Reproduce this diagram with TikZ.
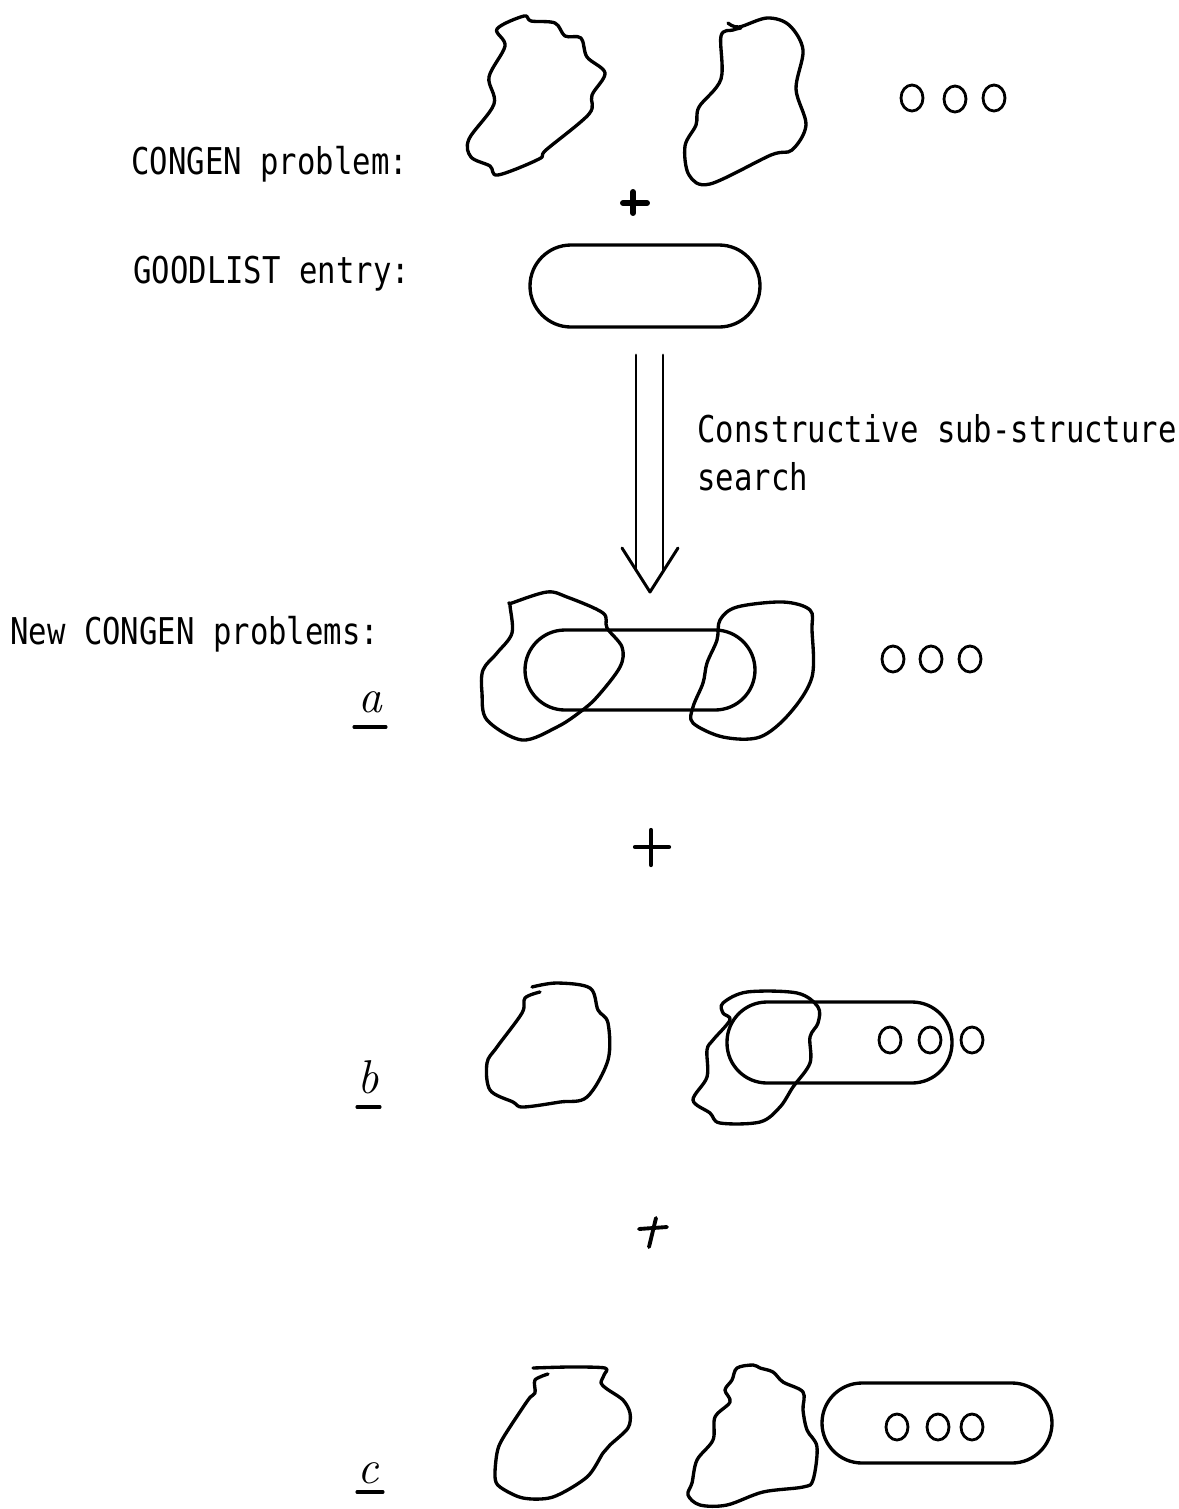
\documentclass[tikz,border=0pt]{standalone}
\usepackage{fontspec}
\newfontfamily\lblfont{DejaVu Sans Mono}[FakeStretch=0.83]
\begin{document}
\begin{tikzpicture}[x=0.02cm,y=-0.02cm,line join=round,line cap=round,
  outl/.style={line width=1.9pt},
  dots/.style={line width=1.6pt},
  lbl/.style={font=\lblfont\fontsize{21}{25}\selectfont,anchor=base west,inner sep=0pt},
  hand/.style={font=\fontsize{27}{30}\selectfont\itshape,anchor=base,inner sep=0pt},
  uline/.style={line width=1.8pt}]
\useasboundingbox (0,0) rectangle (1179,1509);

% labels
\node[lbl] (t1) at (131,174) {CONGEN problem:};
\node[lbl] (t2) at (133,283) {GOODLIST entry:};
\node[lbl] (t3) at (697,442) {Constructive sub-structure};
\node[lbl] (t4) at (697,490) {search};
\node[lbl] (t5) at (10,644) {New CONGEN problems:};

% hand letters
\node[hand] (la) at (370,712) {a};
\draw[uline] (354,727) -- (386,727);
\node[hand] (lb) at (368,1093) {b};
\draw[uline] (357,1107) -- (380,1107);
\node[hand] (lc) at (368,1483) {c};
\draw[uline] (357,1492) -- (383,1492);

% --- top row
\draw[outl] plot[smooth cycle,tension=0.55] coordinates {(497,29) (524,16) (531,21) (555,23) (565,36) (581,38) (587,57) (605,73) (592,95) (589,114) (546,150) (539,159) (498,175) (490,166) (471,157) (469,139) (494,104) (489,77) (505,46)};
\draw[outl] plot[smooth,tension=0.55] coordinates {(728,23) (739,27) (767,18) (789,25) (803,50) (796,89) (806,125) (792,150) (771,155) (710,184) (689,175) (685,146) (696,125) (699,107) (721,79) (721,36) (733,30) (741,28)};
\foreach \x/\y in {912/98,955/99,994/98} \draw[dots] (\x,\y) ellipse [x radius=11,y radius=13];

% plus 1
\draw[line width=3.4pt] (623,203) -- (647,203);
\draw[line width=3.4pt] (633,192) -- (633,213);

% GOODLIST pill
\draw[outl,rounded corners=0.82cm] (530,245) rectangle (760,327);

% double arrow
\coordinate (al) at (636,355);
\coordinate (ar) at (663,355);
\coordinate (ale) at (636,570);
\coordinate (are) at (663,570);
\coordinate (tip) at (650,592);
\draw[line width=1.7pt] (al) -- (ale);
\draw[line width=1.7pt] (ar) -- (are);
\draw[line width=1.7pt] (622,548) -- (tip) -- (678,548);

% --- row a
\draw[outl] plot[smooth cycle,tension=0.55] coordinates {(512,603) (547,592) (567,597) (603,613) (607,628) (622,647) (620,667) (597,697) (580,712) (557,727) (522,740) (487,720) (482,693) (483,670) (497,653) (512,633) (510,605)};
\draw[outl] plot[smooth cycle,tension=0.55] coordinates {(720,620) (737,607) (783,602) (810,610) (812,630) (812,677) (790,713) (760,737) (723,737) (693,723) (693,707) (703,683) (707,663) (717,640)};
\draw[outl,rounded corners=0.8cm] (525,630) rectangle (755,710);
\foreach \x in {893,931,970} \draw[dots] (\x,659) ellipse [x radius=11,y radius=13];

% plus 2
\draw[line width=2.4pt] (635,847) -- (669,847);
\draw[line width=2.4pt] (651,830) -- (651,865);

% --- row b
\draw[outl] plot[smooth,tension=0.55] coordinates {(532,987) (557,983) (590,988) (598,1010) (608,1023) (608,1060) (587,1097) (560,1102) (523,1107) (513,1102) (490,1090) (487,1063) (497,1047) (522,1013) (525,998) (540,992)};
\draw[outl] plot[smooth cycle,tension=0.55] coordinates {(723,1003) (747,992) (797,993) (818,1007) (818,1023) (810,1037) (810,1063) (793,1087) (780,1107) (760,1122) (720,1123) (710,1113) (693,1100) (707,1077) (707,1050) (713,1040) (730,1020) (723,1013)};
\draw[outl,rounded corners=0.8cm] (727,1002) rectangle (952,1083);
\foreach \x in {890,930,972} \draw[dots] (\x,1040) ellipse [x radius=11,y radius=13];

% plus 3
\draw[line width=2.2pt] (639,1229) -- (667,1227);
\draw[line width=2.2pt] (656,1218) -- (649,1247);

% --- row c
\draw[outl] plot[smooth,tension=0.5] coordinates {(533,1368) (570,1367) (605,1368) (604,1375) (601,1383) (607,1389) (623,1400) (630,1413) (628,1428) (610,1445) (603,1453) (587,1477) (553,1497) (523,1498) (500,1487) (495,1477) (497,1453) (503,1438) (528,1400) (535,1393) (535,1380) (548,1374)};
\draw[outl] plot[smooth cycle,tension=0.55] coordinates {(737,1368) (753,1365) (760,1368) (773,1372) (783,1382) (803,1392) (803,1410) (807,1430) (817,1447) (813,1480) (803,1487) (763,1492) (727,1505) (700,1505) (688,1495) (692,1483) (697,1460) (713,1440) (715,1417) (730,1402) (725,1390) (732,1380)};
\draw[outl,rounded corners=0.8cm] (822,1383) rectangle (1052,1463);
\foreach \x in {897,938,972} \draw[dots] (\x,1427) ellipse [x radius=11,y radius=13];
\end{tikzpicture}
\end{document}
